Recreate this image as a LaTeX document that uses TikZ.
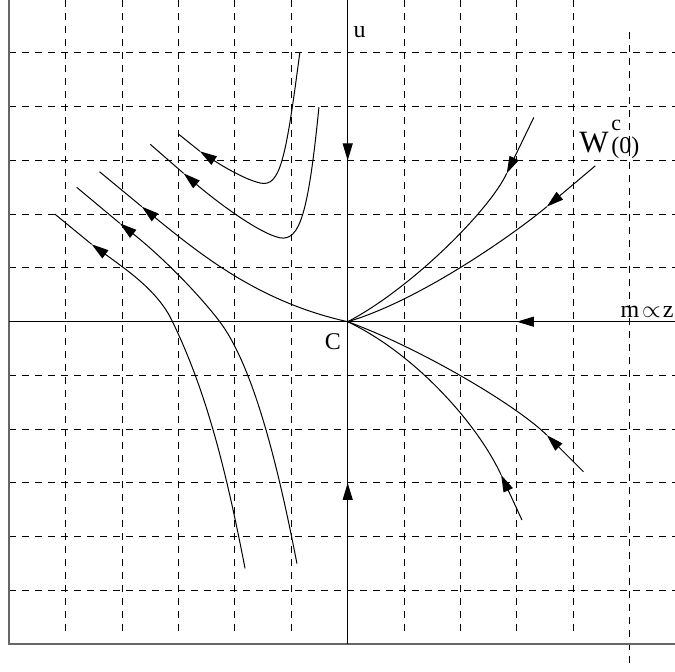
\documentclass[tikz,border=0pt]{standalone}
\usepackage{fontspec}
\setmainfont{Liberation Serif}
\usepackage{tikz}
\usetikzlibrary{arrows.meta}

\tikzset{
  gridline/.style={line width=0.5pt, dash pattern=on 3.5pt off 3pt},
  frameline/.style={line width=1pt, black!60},
  orbit/.style={line width=0.5pt},
  flow/.style={orbit, -{Triangle[length=8.5pt,width=5pt]}},
  lbl/.style={inner sep=0pt, font=\fontsize{12}{14}\selectfont},
}

\begin{document}
\begin{tikzpicture}[x=28.2pt, y=26.875pt]
  \useasboundingbox (-6.165,-6.517) rectangle (5.803,5.985);

  % dashed grid
  \foreach \k in {-5,...,-1,1,2,3,4,5}
    \draw[gridline] (-6,\k) -- (5.803,\k);
  \foreach \k in {-5,...,-1,1,2,3,4}
    \draw[gridline] (\k,5.985) -- (\k,-5.83);
  \draw[gridline] (5,5.39) -- (5,-6.44);

  % frame and axes
  \draw[frameline] (-6,5.985) -- (-6,-6) -- (5.803,-6);
  \draw[orbit] (-6,0) -- (5.803,0);
  \draw[orbit] (0,-6) -- (0,5.985);
  \draw[flow] (0,3.4) -- (0,3);
  \draw[flow] (0,-3.4) -- (0,-3);
  \draw[flow] (3.4,0) -- (3,0);

  % orbits on the left
  \draw[flow] (-0.85,5) .. controls (-1.1,3.0) and (-1.2,2.5) .. (-1.55,2.58)
    .. controls (-1.85,2.65) and (-2.3,2.95) .. (-2.62,3.17);
  \draw[orbit] (-2.62,3.17) -- (-3.0,3.49);
  \draw[flow] (-0.51,3.99) .. controls (-0.7,2.0) and (-0.85,1.5) .. (-1.2,1.56)
    .. controls (-1.6,1.65) and (-2.4,2.3) .. (-2.91,2.76);
  \draw[orbit] (-2.91,2.76) -- (-3.5,3.3);
  \draw[flow] (0,0) .. controls (-1.5,0.35) and (-2.5,1.15) .. (-3.65,2.14);
  \draw[orbit] (-3.65,2.14) -- (-4.40,2.79);
  \draw[flow] (-0.90,-4.50) .. controls (-1.25,-2.6) and (-1.69,-0.78) .. (-2.29,0.03)
    .. controls (-2.75,0.65) and (-3.4,1.3) .. (-4.04,1.83);
  \draw[orbit] (-4.04,1.83) -- (-4.805,2.50);
  \draw[flow] (-1.82,-4.59) .. controls (-2.15,-2.8) and (-2.5,-1.3) .. (-3.12,0.03)
    .. controls (-3.37,0.57) and (-3.9,0.95) .. (-4.54,1.44);
  \draw[orbit] (-4.54,1.44) -- (-5.19,2.0);

  % orbits on the right
  \draw[flow] (3.30,3.80) -- (2.82,2.76);
  \draw[orbit] (2.82,2.76) .. controls (2.5,2.05) and (1.1,0.6) .. (0,0);
  \draw[flow] (4.39,2.90) -- (3.53,2.14);
  \draw[orbit] (3.53,2.14) .. controls (3.0,1.67) and (1.3,0.4) .. (0,0);
  \draw[flow] (4.18,-2.79) -- (3.53,-2.11);
  \draw[orbit] (3.53,-2.11) .. controls (3.0,-1.56) and (1.3,-0.5) .. (0,0);
  \draw[flow] (3.09,-3.69) -- (2.72,-2.85);
  \draw[orbit] (2.72,-2.85) .. controls (2.30,-1.90) and (1.2,-0.6) .. (0,0);

  % labels
  \node[lbl, anchor=base west] (u) at (0.10,5.29) {u};
  \node[lbl, anchor=base west] (c) at (-0.41,-0.51) {C};
  \node[lbl, anchor=base west, font=\fontsize{15.5}{17}\selectfont] (w) at (4.10,3.14) {W};
  \node[lbl, anchor=base west, font=\fontsize{11}{13}\selectfont] (wsup) at (4.67,3.55) {c};
  \node[lbl, anchor=base west] (wsub) at (4.67,3.12) {(0)};
  \node[lbl, anchor=base west] (maxis) at (4.83,0.087) {m\kern1.5pt$\propto$\kern1pt z};
\end{tikzpicture}
\end{document}
